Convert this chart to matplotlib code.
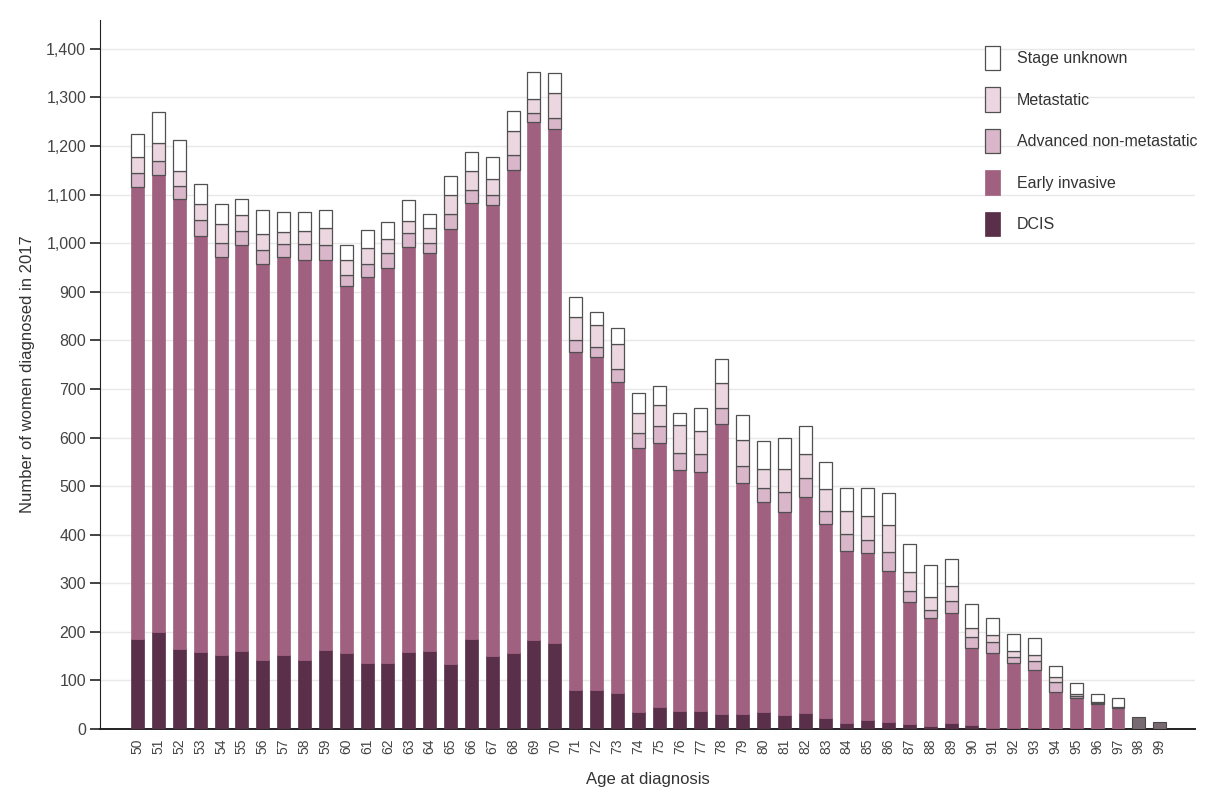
import numpy as np
import matplotlib
matplotlib.use("Agg")
import matplotlib.pyplot as plt
from matplotlib.ticker import FuncFormatter, MultipleLocator

plt.rcParams['font.family'] = ['Liberation Sans', 'DejaVu Sans']

# --- data: women diagnosed in 2017 by age and stage ---
ages = list(range(50, 100))

dcis = [185, 200, 165, 158, 152, 160, 143, 152, 142, 162, 157, 136, 135, 158, 160, 133, 185, 150, 157, 183,
        178, 80, 80, 75, 35, 45, 38, 38, 30, 30, 35, 28, 32, 22, 12, 18, 15, 10, 6, 12,
        8, 3, 2, 2, 1, 2, 1, 1, 0, 0]
early = [931, 941, 927, 856, 820, 837, 814, 820, 824, 804, 754, 795, 813, 835, 819, 896, 897, 929, 994, 1067,
         1057, 697, 686, 640, 543, 543, 495, 492, 598, 476, 433, 419, 445, 400, 355, 345, 311, 252, 222, 226,
         158, 154, 133, 119, 76, 61, 51, 42, 0, 0]
advanced = [28, 29, 25, 34, 28, 29, 28, 26, 32, 31, 24, 26, 31, 27, 22, 31, 28, 20, 31, 19,
            22, 23, 21, 27, 31, 36, 35, 36, 32, 35, 29, 40, 40, 27, 34, 26, 39, 23, 18, 26,
            24, 23, 14, 20, 20, 5, 2, 2, 0, 0]
metastatic = [34, 37, 32, 32, 39, 33, 34, 26, 28, 34, 31, 33, 29, 26, 30, 39, 39, 33, 48, 28,
              53, 49, 45, 51, 41, 43, 58, 48, 52, 53, 39, 49, 50, 46, 48, 49, 55, 39, 26, 30,
              17, 14, 11, 11, 11, 5, 2, 1, 0, 0]
unknown = [47, 64, 64, 42, 42, 33, 49, 40, 38, 37, 31, 37, 36, 43, 29, 40, 38, 45, 43, 55,
           40, 40, 27, 33, 41, 39, 24, 46, 50, 52, 57, 64, 57, 55, 48, 59, 65, 56, 65, 55,
           50, 34, 36, 35, 22, 21, 17, 17, 0, 0]

# oldest ages shown only as a combined grey bar
combined_ages = [98, 99]
combined = [25, 14]

stage_labels = ['DCIS', 'Early invasive', 'Advanced non-metastatic', 'Metastatic', 'Stage unknown']
stage_colors = ['#5a2f4a', '#a0607f', '#d9b6ca', '#ecd7e1', '#ffffff']
edge = '#505050'

fig = plt.figure(figsize=(12.06, 7.89), dpi=100)
ax = fig.add_axes([0.083, 0.076, 0.908, 0.899])

x = np.array(ages)
width = 0.62
bottom = np.zeros(len(ages))
series = [dcis, early, advanced, metastatic, unknown]
handles = []
for vals, lab, col in zip(series, stage_labels, stage_colors):
    vals = np.array(vals, dtype=float)
    if lab in ('DCIS', 'Early invasive'):
        b = ax.bar(x, vals, width, bottom=bottom, color=col, edgecolor=col, linewidth=0.5,
                   label=lab, zorder=3)
    else:
        b = ax.bar(x, vals, width, bottom=bottom, color=col, edgecolor=edge, linewidth=0.9,
                   label=lab, zorder=3)
    handles.append(b)
    bottom += vals

ax.bar(combined_ages, combined, width, color='#776a70', edgecolor='#4a4a4a', linewidth=0.8, zorder=3)

ax.set_xlim(48.2, 100.7)
ax.set_ylim(0, 1460)
ax.yaxis.set_major_locator(MultipleLocator(100))
ax.yaxis.set_major_formatter(FuncFormatter(lambda v, p: f'{int(v):,}'))
ax.set_xticks(ages)
ax.set_xticklabels([str(a) for a in ages], rotation=90, fontsize=10, color='#444444')
ax.tick_params(axis='x', length=0, pad=7)
ax.tick_params(axis='y', length=7, width=1.2, labelsize=11.5, colors='#222222', direction='out', pad=3)
for lab in ax.get_yticklabels():
    lab.set_color('#444444')

ax.grid(axis='y', color='#e8e8e8', linewidth=1, zorder=0)
ax.set_axisbelow(True)
for s in ['top', 'right']:
    ax.spines[s].set_visible(False)
ax.spines['left'].set_color('#222222')
ax.spines['bottom'].set_color('#222222')
ax.spines['bottom'].set_linewidth(1.4)

ax.set_ylabel('Number of women diagnosed in 2017', fontsize=12, color='#333333', labelpad=8)
ax.set_xlabel('Age at diagnosis', fontsize=12, color='#333333', labelpad=13)

leg = fig.legend(handles[::-1], stage_labels[::-1], loc='upper left', bbox_to_anchor=(0.8167, 0.942),
                 frameon=False, fontsize=11.5, handlelength=0.92, handleheight=2.0,
                 labelspacing=1.05, handletextpad=1.1, borderpad=0, borderaxespad=0)
for t in leg.get_texts():
    t.set_color('#333333')

plt.savefig('out.png', dpi=100)
